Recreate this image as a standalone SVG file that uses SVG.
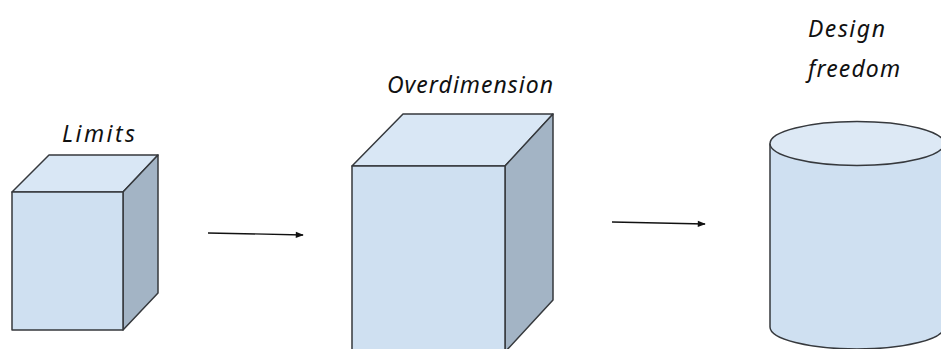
<svg xmlns="http://www.w3.org/2000/svg" width="941" height="349" viewBox="0 0 941 349">
<defs>
<style>
.front{fill:#cfe0f1;stroke:#36393d;stroke-width:1.5;stroke-linejoin:round}
.top{fill:#d9e7f5;stroke:#36393d;stroke-width:1.5;stroke-linejoin:round}
.side{fill:#a3b4c5;stroke:#36393d;stroke-width:1.5;stroke-linejoin:round}
.lbl{font-family:"Noto Sans","DejaVu Sans",sans-serif;font-style:italic;font-size:23px;fill:#111}
.conn{stroke:#111;stroke-width:1.3;fill:none}
</style>
<marker id="ah" viewBox="0 0 10 10" refX="9" refY="5" markerWidth="9" markerHeight="8" orient="auto" markerUnits="userSpaceOnUse">
<path d="M0,1 L10,5 L0,9 Z" fill="#111"/>
</marker>
</defs>
<rect width="941" height="349" fill="#fff"/>
<g id="limits">
<polygon class="top" points="12,192 49,155 158,155 123,192"/>
<polygon class="side" points="123,192 158,155 158,293 123,330"/>
<rect class="front" x="12" y="192" width="111" height="138"/>
<text class="lbl" x="62" y="142" textLength="73" lengthAdjust="spacing">Limits</text>
</g>
<g id="overdimension">
<polygon class="top" points="352,166 403,114 553,114 505,166"/>
<polygon class="side" points="505,166 553,114 553,300 505,352"/>
<rect class="front" x="352" y="166" width="153" height="186"/>
<text class="lbl" x="387" y="93" textLength="166" lengthAdjust="spacing">Overdimension</text>
</g>
<g id="design-freedom">
<path class="front" d="M770,143.5 L770,327 A87,22 0 0 0 944,327 L944,143.5"/>
<ellipse class="top" cx="857" cy="143.5" rx="87" ry="22" style="fill:#dde9f5"/>
<text class="lbl" x="808" y="37" textLength="77" lengthAdjust="spacing">Design</text>
<text class="lbl" x="808" y="77" textLength="92" lengthAdjust="spacing">freedom</text>
</g>
<g id="connectors">
<line class="conn" x1="208" y1="233" x2="303" y2="235" marker-end="url(#ah)"/>
<line class="conn" x1="612" y1="222" x2="705" y2="224" marker-end="url(#ah)"/>
</g>
</svg>
